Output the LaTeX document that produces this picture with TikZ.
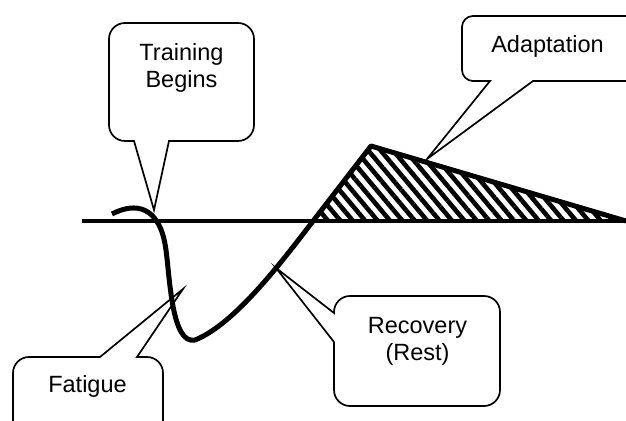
\documentclass[tikz,border=0pt]{standalone}
\usepackage{fontspec}
\setmainfont{Liberation Sans}
\usetikzlibrary{patterns.meta}

\tikzset{
  callout/.style={draw, line width=0.85pt},
  caption/.style={inner sep=0pt, align=center, font=\fontsize{11.75}{13.5}\selectfont},
  hatch/.style={pattern={Lines[angle=-50,distance=4.75pt,line width=2.3pt]}}
}

\begin{document}
\begin{tikzpicture}[x=0.5pt,y=-0.5pt]
  \useasboundingbox (0,0) rectangle (626,421);
  \clip (0,0) rectangle (626,421);

  % time axis
  \draw[line width=1.65pt] (82,221) -- (626,221);

  % gain above the baseline
  \fill[hatch] (313,221) -- (371,146) -- (626,221) -- cycle;

  % response curve
  \draw[line width=2.5pt, line join=round]
    (112,214) .. controls (135,202) and (160,205) .. (166,250)
    .. controls (170,280) and (172,345) .. (195,340)
    .. controls (225,328) and (260,290) .. (300,238)
    -- (371,146) -- (626,221);

  % callouts
  \draw[callout] (169,141) [rounded corners=8pt] -- (254,141) -- (254,23)
    -- (109,23) -- (109,141) [sharp corners] -- (134,141) -- (154,210) -- cycle;
  \draw[callout] (533,81) [rounded corners=5.5pt] -- (640,81) -- (640,16)
    -- (462,16) -- (462,81) [sharp corners] -- (490,81) -- (427,159) -- cycle;
  \draw[callout] (137,357) [rounded corners=8pt] -- (163,357) -- (163,440)
    -- (13,440) -- (13,357) [sharp corners] -- (100,357) -- (183,289) -- cycle;
  \draw[callout] (334,342) [rounded corners=8pt] -- (334,406) -- (500,406)
    -- (500,296) -- (334,296) [sharp corners] -- (334,313) -- (276,268) -- cycle;

  \node[caption] (begins) at (181.5,68) {Training\\Begins};
  \node[caption] (adapt) at (547.5,46) {Adaptation};
  \node[caption] (fatigue) at (87.5,386) {Fatigue};
  \node[caption] (recovery) at (417.5,341) {Recovery\\(Rest)};
\end{tikzpicture}
\end{document}
